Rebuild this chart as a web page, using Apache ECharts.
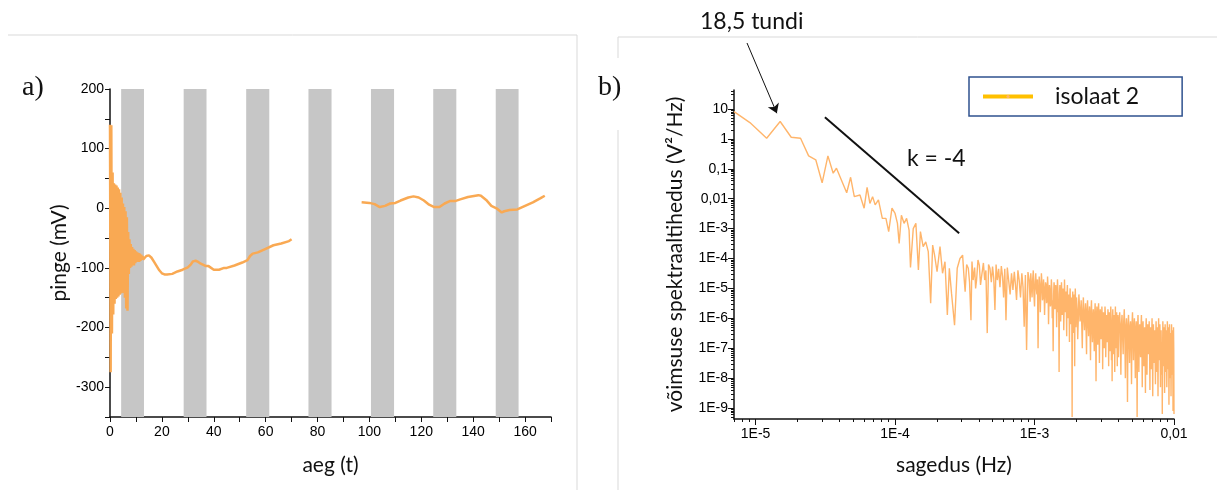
<!DOCTYPE html>
<html>
<head>
<meta charset="utf-8">
<script src="https://cdn.jsdelivr.net/npm/echarts@6/dist/echarts.min.js"></script>
<style>
html, body { margin: 0; padding: 0; background: #fff; }
#chart { width: 1217px; height: 490px; }
</style>
</head>
<body>
<div id="chart"></div>
<script>
// a) pinge ajas, hallid ribad = valgusperioodid
var lightPeriods = [[4.3, 13.1], [28.4, 37.2], [52.5, 61.4], [76.5, 85.4], [100.6, 109.5], [124.6, 133.5], [148.7, 157.5]];

var voltageFirst = [
    [0, 140], [0.25, -275], [0.5, 139], [0.75, -210], [1, 60], [1.25, -178], [1.5, 42], [1.75, -160],
    [2, 40], [2.25, -152], [2.5, 38], [2.75, -150], [3, 35], [3.25, -148], [3.5, 32], [3.75, -145],
    [4, 26], [4.25, -143], [4.5, 18], [4.75, -140], [5, 8], [5.25, -142], [5.5, 2], [5.75, -150],
    [6, -5], [6.25, -168], [6.5, -15], [6.75, -172], [7, -40], [7.25, -110], [7.5, -52], [7.75, -100],
    [8, -60], [8.25, -98], [8.5, -65], [8.75, -95], [9, -68], [9.25, -96], [9.5, -70], [9.75, -92],
    [10, -72], [10.25, -90], [10.5, -74], [10.75, -88], [11, -75], [11.25, -90], [11.5, -76], [11.75, -88],
    [12, -78], [12.25, -86], [12.5, -80], [12.75, -86], [13, -84],
    [14, -80], [15, -79], [16, -83], [17, -90], [18, -97], [19, -104], [20, -109], [21, -111], [22, -111],
    [24, -110], [26, -106], [28, -103], [30, -99], [31, -95], [32, -89], [33, -88], [34, -90], [35, -93],
    [37, -97], [38, -97], [40, -103], [42, -103], [44, -100], [45, -100], [48, -96], [51, -91], [53, -87],
    [54, -80], [55, -76], [57, -74], [60, -68], [63, -62], [66, -59], [69, -55], [70, -52]
];

var voltageSecond = [
    [97, 10], [100, 9], [102, 7], [104, 2], [106, 4], [108, 8], [110, 9], [112, 13], [115, 18], [117, 20],
    [119, 18], [121, 13], [123, 6], [125, 2], [127, 2], [129, 8], [131, 12], [133, 12], [135, 15], [138, 19],
    [142, 22], [143, 21], [145, 14], [147, 4], [149, 0], [151, -7], [152, -5], [154, -3], [157, -2], [160, 4],
    [163, 10], [166, 17], [167.6, 21]
];

// b) võimsuse spektraaltihedus [sagedus Hz, V^2/Hz]
var psdPoints = [
    [7e-6, 8.1], [9.1e-6, 3.5], [12e-6, 1.05], [15e-6, 3.8], [18e-6, 1.13], [21e-6, 1.05], [24e-6, 0.27],
    [27e-6, 0.2], [30e-6, 0.034], [33e-6, 0.27], [36e-6, 0.071], [38e-6, 0.104], [45e-6, 0.0158], [48e-6, 0.052],
    [51e-6, 0.0117], [56e-6, 0.0133], [60e-6, 0.0048], [63e-6, 0.024], [66e-6, 0.0069], [69e-6, 0.0117],
    [72e-6, 0.0062], [76e-6, 0.0091], [81e-6, 0.0022], [86e-6, 0.0022], [90e-6, 0.00079], [95e-6, 0.0048],
    [100e-6, 0.0032], [104e-6, 0.0015], [107e-6, 0.00032], [111e-6, 0.0028], [116e-6, 0.0015], [121e-6, 0.0022],
    [126e-6, 0.00089], [129e-6, 5.0e-5], [135e-6, 0.001], [141e-6, 0.0015], [147e-6, 4.1e-5], [152e-6, 0.00079],
    [159e-6, 0.00025], [166e-6, 0.00036], [173e-6, 0.00017], [180e-6, 3.2e-6], [186e-6, 0.00028], [192e-6, 0.00013],
    [200e-6, 3.6e-5], [210e-6, 0.00025], [219e-6, 3.2e-5], [228e-6, 7.8e-5], [237e-6, 1.3e-6], [245e-6, 4.7e-5],
    [254e-6, 6.8e-6], [267e-6, 5.9e-7], [279e-6, 4.7e-5], [292e-6, 1.0e-4], [305e-6, 1.3e-4], [312e-6, 2.5e-5],
    [318e-6, 7.8e-6], [326e-6, 6.3e-5], [335e-6, 4.7e-5], [342e-6, 1.6e-5], [350e-6, 8.7e-7], [356e-6, 7.9e-5],
    [363e-6, 1.9e-5], [372e-6, 5.0e-5], [378e-6, 1.0e-5], [384e-6, 1.9e-5], [393e-6, 8.9e-5], [402e-6, 6.0e-5],
    [410e-6, 1.3e-5], [420e-6, 3.2e-5], [430e-6, 7.1e-5], [439e-6, 1.9e-5], [448e-6, 4.0e-5], [458e-6, 3.2e-7],
    [468e-6, 6.3e-5], [479e-6, 4.7e-5], [490e-6, 1.6e-5], [500e-6, 5.4e-5], [510e-6, 2.2e-5], [520e-6, 1.9e-6],
    [530e-6, 6.3e-5], [541e-6, 1.9e-5], [553e-6, 4.5e-5], [565e-6, 1.1e-5], [578e-6, 5.6e-5], [590e-6, 2.5e-5],
    [600e-6, 5.0e-6], [612e-6, 4.5e-5], [624e-6, 8.7e-7], [638e-6, 5.0e-5], [652e-6, 1.9e-5], [668e-6, 6.3e-6],
    [684e-6, 3.2e-5], [700e-6, 8.9e-6], [716e-6, 3.6e-5], [730e-6, 1.3e-5], [743e-6, 4.1e-6], [760e-6, 4.0e-5],
    [776e-6, 1.9e-5], [793e-6, 5.0e-6], [811e-6, 3.2e-5], [827e-6, 1.1e-5], [843e-6, 5.2e-7], [860e-6, 2.8e-5],
    [877e-6, 8.7e-8], [897e-6, 3.5e-5], [916e-6, 1.9e-5], [930e-6, 3.6e-6],
    [940e-6, 3.2e-5], [960e-6, 5.0e-6], [980e-6, 4.0e-5], [1000e-6, 2.5e-6], [1020e-6, 3.2e-5], [1040e-6, 6.3e-6],
    [1060e-6, 1.0e-7], [1080e-6, 2.5e-5], [1100e-6, 1.6e-6], [1120e-6, 3.2e-5], [1140e-6, 4.0e-6], [1160e-6, 2.0e-5],
    [1180e-6, 1.3e-6], [1200e-6, 1.6e-5], [1220e-6, 3.2e-6], [1240e-6, 2.5e-5], [1260e-6, 6.3e-7], [1280e-6, 1.3e-5],
    [1300e-6, 2.5e-6], [1320e-6, 2.0e-5], [1340e-6, 1.0e-6], [1360e-6, 7.9e-8], [1380e-6, 1.6e-5], [1400e-6, 2.0e-6],
    [1420e-6, 1.3e-5], [1440e-6, 5.0e-7], [1460e-6, 2.0e-5], [1480e-6, 1.6e-6], [1500e-6, 1.6e-8], [1520e-6, 1.3e-5],
    [1540e-6, 7.9e-7], [1560e-6, 1.6e-5], [1580e-6, 1.3e-6], [1600e-6, 1.0e-5], [1620e-6, 4.0e-7], [1640e-6, 2.0e-5],
    [1660e-6, 1.6e-6], [1680e-6, 7.9e-6], [1700e-6, 2.5e-7], [1720e-6, 1.3e-5], [1740e-6, 1.0e-6], [1760e-6, 6.3e-6],
    [1780e-6, 1.6e-7], [1800e-6, 1.0e-5], [1820e-6, 6.3e-7], [1840e-6, 5.0e-6], [1860e-6, 5.0e-10], [1880e-6, 7.9e-6],
    [1900e-6, 3.2e-7], [1920e-6, 6.3e-6], [1940e-6, 2.5e-8], [1960e-6, 1.0e-5], [1980e-6, 5.0e-7], [2000e-6, 5.0e-6],
    [2040e-6, 2.0e-7], [2080e-6, 6.3e-6], [2120e-6, 7.9e-7], [2160e-6, 4.0e-6], [2200e-6, 1.0e-7], [2240e-6, 5.0e-6],
    [2280e-6, 4.0e-7], [2320e-6, 3.2e-6], [2360e-6, 6.3e-8], [2400e-6, 4.0e-6], [2440e-6, 2.5e-7], [2480e-6, 2.5e-6],
    [2520e-6, 4.0e-8], [2560e-6, 4.0e-6], [2600e-6, 1.6e-7], [2640e-6, 2.0e-6], [2680e-6, 7.9e-8], [2720e-6, 3.2e-6],
    [2760e-6, 7.9e-9], [2800e-6, 2.5e-6], [2840e-6, 1.3e-7], [2880e-6, 3.2e-6], [2920e-6, 3.2e-8], [2960e-6, 2.0e-6],
    [3000e-6, 2.0e-7], [3040e-6, 2.5e-6], [3080e-6, 2.0e-8], [3120e-6, 1.6e-6], [3160e-6, 1.0e-7], [3200e-6, 2.5e-6],
    [3240e-6, 5.0e-8], [3280e-6, 1.3e-6], [3320e-6, 1.6e-7], [3360e-6, 2.0e-6], [3400e-6, 2.5e-8], [3440e-6, 1.6e-6],
    [3480e-6, 7.9e-8], [3520e-6, 2.5e-6], [3560e-6, 4.0e-8], [3600e-6, 7.9e-9], [3640e-6, 2.0e-6], [3680e-6, 6.3e-8],
    [3720e-6, 1.3e-6], [3760e-6, 1.6e-8], [3800e-6, 2.5e-6], [3840e-6, 1.0e-7], [3880e-6, 1.6e-6], [3920e-6, 2.5e-8],
    [3960e-6, 1.3e-6], [4000e-6, 5.0e-8],
    [4080e-6, 1.6e-6], [4160e-6, 1.3e-8], [4240e-6, 1.3e-6], [4320e-6, 6.3e-8], [4400e-6, 2.0e-6], [4480e-6, 1.0e-8],
    [4560e-6, 1.0e-6], [4640e-6, 1.6e-9], [4720e-6, 1.3e-6], [4800e-6, 3.2e-8], [4880e-6, 7.9e-7], [4960e-6, 6.3e-9],
    [5040e-6, 1.6e-6], [5120e-6, 4.0e-8], [5200e-6, 1.0e-6], [5280e-6, 1.0e-8], [5360e-6, 7.9e-7], [5440e-6, 5.0e-10],
    [5520e-6, 1.3e-6], [5600e-6, 1.6e-8], [5680e-6, 6.3e-7], [5760e-6, 5.0e-8], [5840e-6, 1.3e-6], [5920e-6, 5.0e-9],
    [6000e-6, 7.9e-7], [6080e-6, 2.5e-8], [6160e-6, 5.0e-7], [6240e-6, 3.2e-9], [6320e-6, 1.0e-6], [6400e-6, 1.3e-8],
    [6480e-6, 6.3e-7], [6560e-6, 6.3e-8], [6640e-6, 7.9e-7], [6720e-6, 4.0e-9], [6800e-6, 5.0e-7], [6880e-6, 2.0e-8],
    [6960e-6, 1.0e-6], [7040e-6, 2.5e-9], [7120e-6, 6.3e-7], [7200e-6, 3.2e-8], [7280e-6, 4.0e-7], [7360e-6, 6.3e-9],
    [7440e-6, 7.9e-7], [7520e-6, 1.6e-8], [7600e-6, 5.0e-7], [7680e-6, 2.5e-9], [7760e-6, 1.0e-6], [7840e-6, 4.0e-8],
    [7920e-6, 6.3e-7], [8000e-6, 5.0e-9], [8080e-6, 4.0e-7], [8160e-6, 1.3e-8], [8240e-6, 6.3e-10], [8320e-6, 7.9e-7],
    [8400e-6, 2.5e-8], [8480e-6, 5.0e-7], [8560e-6, 3.2e-9], [8640e-6, 6.3e-7], [8720e-6, 1.6e-8], [8800e-6, 4.0e-7],
    [8880e-6, 5.0e-9], [8960e-6, 7.9e-7], [9040e-6, 2.0e-8], [9120e-6, 5.0e-7], [9200e-6, 1.3e-9], [9280e-6, 6.3e-7],
    [9360e-6, 1.0e-8], [9440e-6, 3.2e-7], [9520e-6, 2.5e-9], [9600e-6, 6.3e-7], [9680e-6, 1.3e-8], [9760e-6, 4.0e-7],
    [9840e-6, 7.9e-10], [9920e-6, 5.0e-7], [10000e-6, 6.3e-10]
];

// tihedama kõrgsagedusosa vahepealsed punktid
var psdPointsMid = [
    [950e-6, 1.3e-5], [970e-6, 2.0e-5], [990e-6, 6.3e-6], [1010e-6, 1.6e-5], [1030e-6, 1.0e-5], [1050e-6, 2.0e-5],
    [1070e-6, 5.0e-6], [1090e-6, 1.3e-5], [1110e-6, 7.9e-6], [1130e-6, 1.6e-5], [1150e-6, 5.0e-6], [1170e-6, 1.0e-5],
    [1190e-6, 6.3e-6], [1210e-6, 1.3e-5], [1230e-6, 4.0e-6], [1250e-6, 1.0e-5], [1270e-6, 5.0e-6], [1290e-6, 7.9e-6],
    [1310e-6, 3.2e-6], [1330e-6, 1.0e-5], [1350e-6, 4.0e-6], [1370e-6, 6.3e-6], [1390e-6, 1.0e-5], [1410e-6, 3.2e-6],
    [1430e-6, 7.9e-6], [1450e-6, 4.0e-6], [1470e-6, 1.0e-5], [1490e-6, 2.5e-6], [1510e-6, 6.3e-6], [1530e-6, 5.0e-6],
    [1550e-6, 2.5e-6], [1570e-6, 7.9e-6], [1590e-6, 3.2e-6], [1610e-6, 6.3e-6], [1630e-6, 2.0e-6], [1650e-6, 5.0e-6],
    [1670e-6, 3.2e-6], [1690e-6, 2.0e-6], [1710e-6, 6.3e-6], [1730e-6, 1.6e-6], [1750e-6, 4.0e-6], [1770e-6, 2.5e-6],
    [1790e-6, 5.0e-6], [1810e-6, 2.0e-6], [1830e-6, 3.2e-6], [1850e-6, 1.6e-6], [1870e-6, 4.0e-6], [1890e-6, 2.0e-6],
    [1910e-6, 3.2e-6], [1930e-6, 1.3e-6], [1950e-6, 4.0e-6], [1970e-6, 2.5e-6], [1990e-6, 1.6e-6],
    [2020e-6, 2.0e-6], [2060e-6, 1.0e-6], [2100e-6, 2.5e-6], [2140e-6, 1.3e-6], [2180e-6, 6.3e-7], [2220e-6, 2.0e-6],
    [2260e-6, 1.0e-6], [2300e-6, 1.6e-6], [2340e-6, 5.0e-7], [2380e-6, 2.0e-6], [2420e-6, 7.9e-7], [2460e-6, 1.3e-6],
    [2500e-6, 4.0e-7], [2540e-6, 1.6e-6], [2580e-6, 6.3e-7], [2620e-6, 1.0e-6], [2660e-6, 3.2e-7], [2700e-6, 1.3e-6],
    [2740e-6, 5.0e-7], [2780e-6, 1.0e-6], [2820e-6, 4.0e-7], [2860e-6, 1.6e-6], [2900e-6, 6.3e-7], [2940e-6, 7.9e-7],
    [2980e-6, 1.3e-6], [3020e-6, 4.0e-7], [3060e-6, 1.0e-6], [3100e-6, 5.0e-7], [3140e-6, 7.9e-7], [3180e-6, 3.2e-7],
    [3220e-6, 1.3e-6], [3260e-6, 4.0e-7], [3300e-6, 7.9e-7], [3340e-6, 2.5e-7], [3380e-6, 1.0e-6], [3420e-6, 5.0e-7],
    [3460e-6, 7.9e-7], [3500e-6, 3.2e-7], [3540e-6, 1.0e-6], [3580e-6, 4.0e-7], [3620e-6, 6.3e-7], [3660e-6, 2.5e-7],
    [3700e-6, 1.0e-6], [3740e-6, 4.0e-7], [3780e-6, 6.3e-7], [3820e-6, 2.0e-7], [3860e-6, 7.9e-7], [3900e-6, 3.2e-7],
    [3940e-6, 6.3e-7], [3980e-6, 2.5e-7], [4040e-6, 7.9e-7],
    [4120e-6, 4.0e-7], [4200e-6, 6.3e-7], [4280e-6, 2.5e-7], [4360e-6, 7.9e-7], [4440e-6, 3.2e-7], [4520e-6, 5.0e-7],
    [4600e-6, 2.0e-7], [4680e-6, 6.3e-7], [4760e-6, 2.5e-7], [4840e-6, 5.0e-7], [4920e-6, 1.6e-7], [5000e-6, 6.3e-7],
    [5080e-6, 3.2e-7], [5160e-6, 5.0e-7], [5240e-6, 2.0e-7], [5320e-6, 4.0e-7], [5400e-6, 1.6e-7], [5480e-6, 5.0e-7],
    [5560e-6, 2.5e-7], [5640e-6, 4.0e-7], [5720e-6, 1.3e-7], [5800e-6, 5.0e-7], [5880e-6, 2.0e-7], [5960e-6, 3.2e-7],
    [6040e-6, 1.3e-7], [6120e-6, 4.0e-7], [6200e-6, 1.6e-7], [6280e-6, 3.2e-7], [6360e-6, 1.0e-7], [6440e-6, 4.0e-7],
    [6520e-6, 2.0e-7], [6600e-6, 2.5e-7], [6680e-6, 1.0e-7], [6760e-6, 3.2e-7], [6840e-6, 1.3e-7], [6920e-6, 2.5e-7],
    [7000e-6, 7.9e-8], [7080e-6, 3.2e-7], [7160e-6, 1.3e-7], [7240e-6, 2.0e-7], [7320e-6, 6.3e-8], [7400e-6, 2.5e-7],
    [7480e-6, 1.0e-7], [7560e-6, 2.0e-7], [7640e-6, 6.3e-8], [7720e-6, 2.5e-7], [7800e-6, 1.0e-7], [7880e-6, 1.6e-7],
    [7960e-6, 5.0e-8], [8040e-6, 2.5e-7], [8120e-6, 7.9e-8], [8200e-6, 1.6e-7], [8280e-6, 5.0e-8], [8360e-6, 2.0e-7],
    [8440e-6, 7.9e-8], [8520e-6, 1.3e-7], [8600e-6, 4.0e-8], [8680e-6, 2.0e-7], [8760e-6, 6.3e-8], [8840e-6, 1.3e-7],
    [8920e-6, 4.0e-8], [9000e-6, 2.0e-7], [9080e-6, 6.3e-8], [9160e-6, 1.0e-7], [9240e-6, 3.2e-8], [9320e-6, 1.6e-7],
    [9400e-6, 5.0e-8], [9480e-6, 1.0e-7], [9560e-6, 3.2e-8], [9640e-6, 1.3e-7], [9720e-6, 5.0e-8], [9800e-6, 7.9e-8],
    [9880e-6, 3.2e-8], [9960e-6, 1.0e-7]
];

// tõusu joon k = -4 ja nool 18,5 tunni piigile
var slopeLine = [[3.14e-5, 5.27], [2.88e-4, 6.97e-4]];
var peakPoint = [1.42e-5, 7.2];

var xLogLabels = [1e-5, 1e-4, 1e-3, 1e-2];
var yLogLabels = [1e-9, 1e-8, 1e-7, 1e-6, 1e-5, 1e-4, 1e-3, 1e-2, 1e-1, 1, 10];

var axisColor = '#111';
var labelFont = 'Liberation Sans';
var titleFont = 'Lato';

function minorLogTicks(fromExp, toExp, min, max) {
    var out = [];
    for (var e = fromExp; e <= toExp; e++) {
        for (var m = 2; m <= 9; m++) {
            var v = parseFloat((m * Math.pow(10, e)).toPrecision(3));
            if (v >= min && v <= max) {
                out.push(v);
            }
        }
    }
    return out;
}

function logLabel(v) {
    var e = Math.round(Math.log10(v));
    if (e >= -2) {
        return String(Math.pow(10, e)).replace('.', ',');
    }
    return '1E' + e;
}

var chart = echarts.init(document.getElementById('chart'));

var baseAxis = {
    axisLine: { show: true, onZero: false, lineStyle: { color: axisColor, width: 1.5 } },
    axisTick: { show: true, length: 5, lineStyle: { color: axisColor, width: 1 } },
    axisLabel: { color: '#000', fontFamily: labelFont, fontSize: 14 },
    splitLine: { show: false },
    nameTextStyle: { fontFamily: titleFont, fontSize: 21, color: '#111' }
};

function axis(extra) {
    return echarts.util.merge(JSON.parse(JSON.stringify(baseAxis)), extra, true);
}

var psdSorted = psdPoints.concat(psdPointsMid).sort(function (a, b) { return a[0] - b[0]; });

var option = {
    animation: false,
    backgroundColor: '#fff',
    grid: [
        { left: 110, top: 89, width: 441, height: 328 },
        { left: 734, top: 90, width: 440, height: 329 }
    ],
    xAxis: [
        axis({
            gridIndex: 0, type: 'value', min: 0, max: 170, interval: 10,
            name: 'aeg (t)', nameLocation: 'middle', nameGap: 38,
            axisLabel: {
                margin: 8,
                formatter: function (v) { return v % 20 === 0 ? String(v) : ''; }
            }
        }),
        axis({
            gridIndex: 1, type: 'log', min: 7e-6, max: 0.01, position: 'bottom',
            name: 'sagedus (Hz)', nameLocation: 'middle', nameGap: 36,
            axisTick: { customValues: xLogLabels, length: 6 },
            axisLabel: { customValues: xLogLabels, formatter: logLabel, margin: 8 }
        }),
        axis({
            gridIndex: 1, type: 'log', min: 7e-6, max: 0.01, position: 'bottom', offset: 0,
            axisLine: { show: false },
            axisTick: { customValues: minorLogTicks(-6, -3, 7e-6, 0.01), length: 3 },
            axisLabel: { show: false }
        })
    ],
    yAxis: [
        axis({
            gridIndex: 0, type: 'value', min: -350, max: 200, interval: 50,
            name: 'pinge (mV)', nameLocation: 'middle', nameGap: 40,
            axisLabel: {
                margin: 6,
                formatter: function (v) { return v % 100 === 0 ? String(v) : ''; }
            }
        }),
        axis({
            gridIndex: 1, type: 'log', min: 4.3e-10, max: 43, position: 'left',
            name: 'võimsuse spektraaltihedus (V²/Hz)', nameLocation: 'middle', nameGap: 48,
            axisTick: { customValues: yLogLabels, length: 6 },
            axisLabel: { customValues: yLogLabels, formatter: logLabel, margin: 6 }
        }),
        axis({
            gridIndex: 1, type: 'log', min: 4.3e-10, max: 43, position: 'left', offset: 0,
            axisLine: { show: false },
            axisTick: { customValues: minorLogTicks(-10, 1, 4.3e-10, 43), length: 3 },
            axisLabel: { show: false }
        })
    ],
    legend: {
        data: ['isolaat 2'],
        left: 969,
        top: 77,
        itemWidth: 50,
        itemHeight: 4,
        padding: [8, 43, 8, 12],
        borderColor: '#2f528f',
        borderWidth: 1.5,
        lineStyle: { color: '#ffc000', width: 4 },
        textStyle: { fontFamily: titleFont, fontSize: 23, color: '#111', padding: [0, 0, 0, 17] }
    },
    graphic: [
        { type: 'polyline', silent: true, shape: { points: [[8, 35], [577, 35], [577, 490]] }, style: { stroke: '#d9d9d9', lineWidth: 1, fill: null } },
        { type: 'polyline', silent: true, shape: { points: [[618, 58], [618, 37], [1217, 37]] }, style: { stroke: '#d9d9d9', lineWidth: 1, fill: null } },
        { type: 'line', silent: true, shape: { x1: 618, y1: 130, x2: 618, y2: 490 }, style: { stroke: '#d9d9d9', lineWidth: 1 } },
        { type: 'text', left: 22, top: 74, style: { text: 'a)', font: '28px "Liberation Serif"', fill: '#111' } },
        { type: 'text', left: 598, top: 74, style: { text: 'b)', font: '28px "Liberation Serif"', fill: '#111' } },
        { type: 'text', left: 700, top: 10, style: { text: '18,5 tundi', font: '23px Lato', fill: '#111' } },
        { type: 'text', left: 907, top: 147, style: { text: 'k = -4', font: '23px Lato', fill: '#111' } }
    ],
    series: [
        {
            name: 'pinge 1',
            type: 'line',
            xAxisIndex: 0,
            yAxisIndex: 0,
            data: voltageFirst,
            symbol: 'none',
            z: 3,
            lineStyle: { color: '#f9a953', width: 2.5 },
            itemStyle: { color: '#f9a953' },
            markArea: {
                silent: true,
                itemStyle: { color: '#c6c6c6' },
                data: lightPeriods.map(function (p) {
                    return [{ xAxis: p[0] }, { xAxis: p[1] }];
                })
            }
        },
        {
            name: 'pinge 2',
            type: 'line',
            xAxisIndex: 0,
            yAxisIndex: 0,
            data: voltageSecond,
            symbol: 'none',
            z: 3,
            lineStyle: { color: '#f9a953', width: 2.5 },
            itemStyle: { color: '#f9a953' }
        },
        {
            name: 'isolaat 2',
            type: 'line',
            xAxisIndex: 1,
            yAxisIndex: 1,
            data: psdSorted,
            symbol: 'none',
            sampling: null,
            lineStyle: { color: '#ffb56b', width: 1.4 },
            itemStyle: { color: '#ffb56b' }
        },
        {
            name: 'k',
            type: 'line',
            xAxisIndex: 1,
            yAxisIndex: 1,
            data: slopeLine,
            symbol: 'none',
            lineStyle: { color: '#111', width: 2 },
            itemStyle: { color: '#111' },
            markLine: {
                silent: true,
                symbol: ['none', 'arrow'],
                symbolSize: 9,
                label: { show: false },
                lineStyle: { color: '#111', width: 1, type: 'solid' },
                data: [[{ x: 747, y: 43 }, { coord: peakPoint }]]
            }
        }
    ]
};

chart.setOption(option);
</script>
</body>
</html>
